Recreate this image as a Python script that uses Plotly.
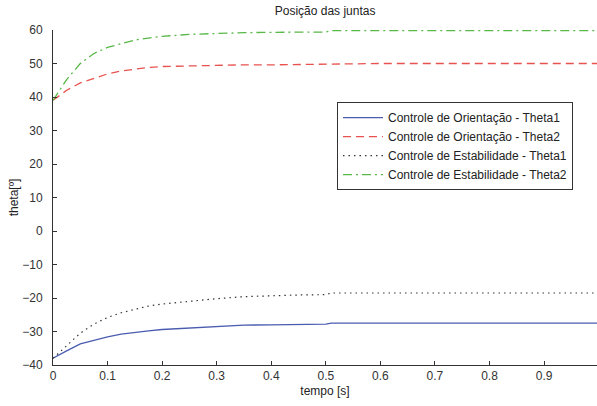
import plotly.graph_objects as go

# time samples [s]
t = [0, 0.01, 0.025, 0.05, 0.075, 0.1, 0.125, 0.15, 0.175, 0.2, 0.25, 0.3, 0.35, 0.4, 0.45, 0.5, 0.51, 0.55, 0.6, 0.7, 0.8, 0.9, 1.0]

orient_theta1 = [-38, -37.2, -35.8, -33.7, -32.6, -31.6, -30.8, -30.2, -29.8, -29.4, -28.9, -28.5, -28.1, -28.0, -27.9, -27.8, -27.5, -27.5, -27.5, -27.5, -27.5, -27.5, -27.5]
orient_theta2 = [39, 40.2, 42.0, 44.2, 45.6, 46.9, 47.8, 48.4, 48.8, 49.1, 49.3, 49.5, 49.6, 49.6, 49.7, 49.7, 49.9, 50.0, 50.0, 50.0, 50.0, 50.0, 50.0]
estab_theta1 = [-38, -36.5, -34.5, -30.5, -27.8, -25.8, -24.4, -23.3, -22.4, -21.8, -20.9, -20.2, -19.6, -19.3, -19.1, -19.0, -18.5, -18.5, -18.5, -18.5, -18.5, -18.5, -18.5]
estab_theta2 = [39, 41.5, 45.2, 50.0, 53.0, 54.8, 56.0, 57.0, 57.6, 58.1, 58.7, 59.0, 59.2, 59.3, 59.4, 59.4, 59.8, 59.8, 59.8, 59.8, 59.8, 59.8, 59.8]

names = ["Controle de Orientação - Theta1", "Controle de Orientação - Theta2",
         "Controle de Estabilidade - Theta1", "Controle de Estabilidade - Theta2"]

x_ticks = [0, 0.1, 0.2, 0.3, 0.4, 0.5, 0.6, 0.7, 0.8, 0.9]
x_tick_labels = ["0", "0.1", "0.2", "0.3", "0.4", "0.5", "0.6", "0.7", "0.8", "0.9"]
y_ticks = [-40, -30, -20, -10, 0, 10, 20, 30, 40, 50, 60]

fig = go.Figure()
fig.add_trace(go.Scatter(x=t, y=orient_theta1, mode="lines", name=names[0],
                         line=dict(color="#4a5cb0", width=1.3)))
fig.add_trace(go.Scatter(x=t, y=orient_theta2, mode="lines", name=names[1],
                         line=dict(color="#e8524f", width=1.3, dash="8px,5px")))
fig.add_trace(go.Scatter(x=t, y=estab_theta1, mode="lines", name=names[2],
                         line=dict(color="#333333", width=1.2, dash="1.5px,4px")))
fig.add_trace(go.Scatter(x=t, y=estab_theta2, mode="lines", name=names[3],
                         line=dict(color="#58b848", width=1.3, dash="9px,4px,2px,4px")))

fig.update_layout(
    width=597, height=406,
    margin=dict(l=53, r=0, t=30, b=41),
    paper_bgcolor="white", plot_bgcolor="white",
    font=dict(family="Liberation Sans, Arial, sans-serif", size=12, color="#333333"),
    title=dict(text="Posição das juntas", x=0.5446, xanchor="center", y=0.984, yanchor="top",
               font=dict(size=12, color="#222222")),
    showlegend=True,
    legend=dict(x=0.522, y=0.785, xanchor="left", yanchor="top",
                bgcolor="white", bordercolor="#333333", borderwidth=1, itemwidth=40,
                font=dict(size=12, color="#222222"), tracegroupgap=0),
    xaxis=dict(range=[0, 0.997], tickvals=x_ticks, ticktext=x_tick_labels,
               ticks="inside", ticklen=4, tickcolor="#333333",
               showline=True, linecolor="#333333", linewidth=1, mirror=False,
               showgrid=False, zeroline=False, automargin=False,
               title=dict(text="tempo [s]", font=dict(size=12, color="#222222"), standoff=4)),
    yaxis=dict(range=[-40, 60], tickvals=y_ticks,
               ticks="inside", ticklen=4, tickcolor="#333333",
               showline=True, linecolor="#333333", linewidth=1, mirror=False,
               showgrid=False, zeroline=False, automargin=False, ticklabelstandoff=7,
               title=dict(text="theta[º]", font=dict(size=12, color="#222222"), standoff=1)),
)

fig.write_html("out.html", config={"displayModeBar": False},
               post_script="document.body.style.margin='0';document.body.style.overflow='hidden';")
